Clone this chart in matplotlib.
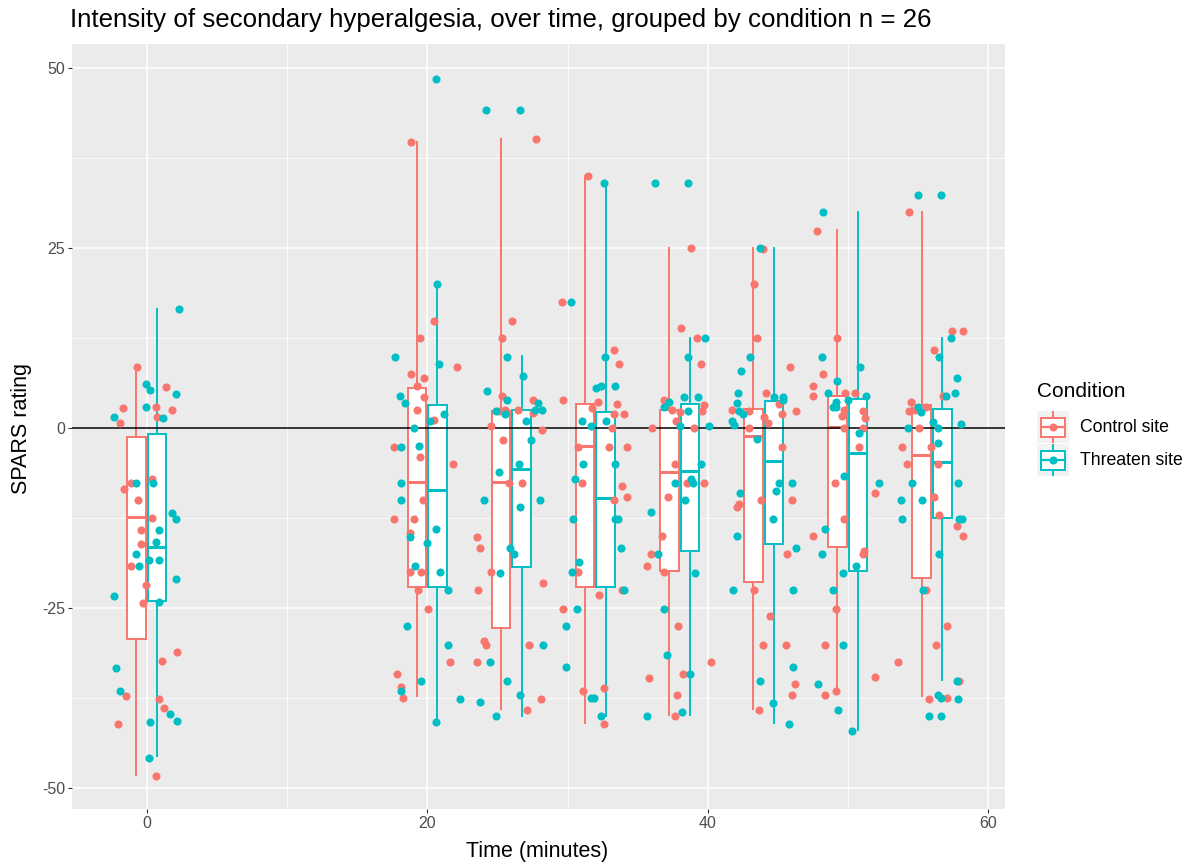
import matplotlib
matplotlib.use("Agg")
import numpy as np
from matplotlib import pyplot as plt
from matplotlib.patches import Rectangle

plt.rcParams['font.family'] = ['Liberation Sans', 'DejaVu Sans']
plt.rcParams['axes.unicode_minus'] = False

CTRL_COLOR = "#F8766D"
THR_COLOR = "#00BFC4"

times = [0, 20, 26, 32, 38, 44, 50, 56]

# box statistics (SPARS rating)
ctrl_whislo = [-48.1, -37.2, -38.9, -40.9, -39.8, -38.9, -36.4, -37.2]
ctrl_q1 = [-29.3, -22.0, -27.75, -22.0, -19.75, -21.3, -16.5, -20.7]
ctrl_med = [-12.25, -7.4, -7.4, -2.4, -6.05, -1.05, 0.15, -3.7]
ctrl_q3 = [-1.2, 5.6, 2.4, 3.35, 2.55, 2.65, 4.5, 3.25]
ctrl_whishi = [8.6, 39.8, 40.25, 35.1, 25.1, 25.1, 27.6, 30.1]

thr_whislo = [-45.5, -40.6, -39.9, -39.9, -39.8, -40.9, -41.9, -34.9]
thr_q1 = [-24.0, -22.0, -19.3, -22.0, -17.0, -16.1, -19.75, -12.5]
thr_med = [-16.4, -8.6, -5.6, -9.7, -5.9, -4.5, -3.45, -4.7]
thr_q3 = [-0.8, 3.2, 2.6, 2.35, 3.35, 3.85, 4.05, 2.7]
thr_whishi = [16.6, 20.2, 10.1, 34.05, 12.5, 25.1, 30.1, 12.5]

# jittered points: (time + jitter, rating)
ctrl_points = [
    # t = 0
    (-0.71, 8.6), (1.33, 5.75), (-1.71, 2.8), (0.64, 3.0), (1.76, 2.55), (-1.93, 0.8), (0.74, 1.6),
    (-1.12, -7.6), (-1.64, -8.35), (0.33, -6.95), (-0.67, -9.9), (0.33, -12.4), (-0.41, -14.1),
    (-0.41, -16.1), (-1.12, -19.1), (-0.1, -21.7), (-0.29, -24.3), (2.17, -31.05), (1.05, -32.25),
    (-1.52, -37.2), (0.83, -37.6), (1.24, -38.8), (-2.05, -41.0), (0.64, -48.2),
    # t = 20
    (18.83, 39.8), (20.5, 14.9), (19.45, 12.5), (22.12, 8.6), (18.83, 7.55), (19.79, 6.97),
    (19.26, 5.95), (19.79, 4.4), (19.26, 2.57), (20.5, 1.18), (17.6, -2.6), (19.45, -4.0),
    (21.81, -4.98), (19.67, -9.97), (17.6, -12.57), (19.07, -12.57), (18.74, -14.56),
    (18.74, -19.93), (19.57, -19.93), (19.32, -22.5), (20.04, -25.1), (21.62, -32.5),
    (17.83, -34.05), (18.12, -35.85), (18.24, -37.4),
    # t = 26
    (27.76, 40.2), (25.31, 12.57), (26.02, 14.9), (25.31, 4.55), (27.55, 3.95), (25.1, 2.4),
    (25.5, 2.57), (26.43, 2.57), (27.55, 2.2), (24.57, 0.4), (28.17, -0.2), (25.4, -1.64),
    (25.81, -7.57), (26.74, -7.57), (23.55, -15.1), (23.76, -16.55), (24.57, -19.93),
    (23.64, -22.5), (28.26, -21.5), (24.05, -29.5), (24.17, -30.1), (27.24, -30.1),
    (23.55, -32.5), (28.07, -37.6), (27.14, -39.05),
    # t = 32
    (31.45, 35.07), (29.6, 17.5), (33.29, 10.95), (33.69, 9.0), (29.68, 4.0), (32.17, 3.64),
    (33.5, 3.4), (31.76, 2.8), (33.29, 2.0), (34.02, 2.0), (33.19, 0.0), (32.98, -2.57),
    (34.21, -2.57), (30.74, -2.6), (31.05, -7.57), (33.9, -7.98), (34.21, -9.56), (33.29, -9.97),
    (30.74, -19.93), (33.9, -22.5), (32.26, -23.08), (29.67, -25.1), (31.12, -36.46),
    (32.57, -36.04), (32.57, -41.04),
    # t = 38
    (38.81, 25.1), (38.1, 13.9), (39.24, 12.5), (39.55, 9.0), (36.86, 4.0), (37.48, 2.6),
    (38.0, 2.25), (39.71, 3.2), (39.62, 2.43), (37.76, 1.0), (36.05, 0.0), (39.02, 0.0),
    (37.69, -4.93), (38.5, -7.57), (39.74, -7.57), (37.17, -9.56), (36.76, -14.93),
    (35.95, -17.5), (35.64, -19.1), (36.86, -19.93), (37.9, -27.5), (40.24, -32.5),
    (38.21, -34.05), (35.83, -34.65), (37.79, -37.05), (37.69, -40.0),
    # t = 44
    (43.95, 24.9), (43.31, 20.07), (43.52, 12.5), (45.86, 8.54), (44.14, 4.97), (45.05, 3.4),
    (41.76, 2.6), (42.93, 2.43), (45.26, 2.0), (46.29, 2.43), (44.0, 1.64), (44.26, 0.81),
    (42.93, 0.0), (45.29, -2.57), (42.24, -10.53), (42.07, -10.95), (43.83, -9.97),
    (45.98, -9.97), (45.67, -17.5), (43.31, -22.5), (44.43, -26.1), (43.93, -30.1),
    (45.57, -30.1), (46.19, -35.44), (45.98, -37.05), (43.62, -39.05),
    # t = 50
    (47.81, 27.47), (49.24, 12.5), (48.24, 7.57), (47.52, 5.95), (47.52, 4.56), (49.76, 4.97),
    (50.5, 4.97), (49.74, 2.6), (51.1, 2.43), (49.55, 1.78), (51.19, 1.41), (49.71, 0.0),
    (51.1, 0.0), (50.79, -2.57), (49.05, -7.57), (51.93, -9.0), (49.74, -12.57), (47.52, -14.93),
    (51.12, -16.97), (51.07, -17.5), (49.14, -25.1), (48.33, -30.1), (51.93, -34.47),
    (49.14, -36.46), (48.33, -37.05),
    # t = 56
    (54.38, 30.07), (57.45, 13.54), (58.17, 13.54), (56.12, 10.95), (56.81, 4.56), (54.48, 3.64),
    (54.33, 2.43), (54.79, 2.57), (55.59, 3.03), (55.09, 0.0), (53.86, -2.57), (55.91, -2.57),
    (54.19, -4.93), (56.43, -4.93), (56.12, -9.56), (56.52, -11.97), (57.76, -13.54),
    (58.17, -14.93), (55.59, -22.5), (57.05, -27.5), (56.31, -30.1), (53.57, -32.5),
    (57.95, -35.07), (55.81, -37.6), (57.09, -37.43),
]

thr_points = [
    # t = 0
    (2.29, 16.55), (-0.1, 6.2), (0.21, 5.35), (2.05, 4.8), (-0.1, 3.0), (-2.36, 1.6), (1.17, 1.4),
    (-0.81, -7.6), (0.43, -7.6), (1.76, -11.7), (2.05, -12.6), (0.83, -14.1), (0.62, -15.7),
    (-0.81, -17.5), (-0.59, -19.1), (0.12, -18.3), (0.83, -18.3), (2.05, -20.9), (-2.36, -23.3),
    (0.83, -24.05), (-2.24, -33.2), (-1.93, -36.4), (1.67, -39.6), (2.17, -40.6), (0.21, -40.8),
    (0.12, -45.8),
    # t = 20
    (20.62, 48.6), (20.69, 20.1), (17.71, 9.97), (20.81, 8.95), (18.02, 4.55), (18.43, 3.6),
    (21.21, 1.97), (20.19, 1.0), (19.07, 0.0), (18.12, -2.6), (19.38, -2.43), (18.12, -7.57),
    (18.12, -9.97), (20.6, -13.96), (18.74, -15.1), (19.95, -15.95), (19.14, -19.1),
    (20.88, -19.93), (21.5, -22.5), (18.55, -27.5), (21.5, -30.1), (19.55, -35.07),
    (18.12, -36.4), (22.31, -37.6), (20.6, -40.7),
    # t = 26
    (24.17, 44.2), (26.64, 44.2), (25.71, 9.97), (26.84, 7.35), (24.26, 5.17), (25.71, 3.95),
    (27.86, 3.6), (24.86, 2.4), (25.5, 1.97), (27.67, 2.57), (28.17, 2.57), (27.05, 1.0),
    (27.36, -1.64), (26.55, -4.98), (25.1, -6.0), (24.05, -9.97), (28.05, -9.97), (26.62, -10.95),
    (25.9, -16.55), (26.21, -17.5), (25.19, -20.1), (28.26, -30.1), (24.48, -32.5),
    (25.71, -35.07), (26.64, -37.05), (23.76, -38.0), (24.88, -40.0),
    # t = 32
    (32.57, 34.05), (30.21, 17.5), (32.67, 9.93), (32.05, 5.58), (32.36, 5.95), (33.4, 5.95),
    (31.02, 1.0), (31.64, 0.4), (32.76, 1.0), (31.12, -4.93), (33.4, -4.93), (30.52, -6.97),
    (30.4, -12.57), (33.4, -12.57), (33.6, -12.57), (33.79, -16.55), (30.81, -18.54),
    (30.33, -19.93), (34.02, -22.5), (30.64, -25.1), (29.9, -27.5), (29.9, -33.1),
    (31.64, -37.43), (31.86, -37.43), (32.36, -40.0),
    # t = 38
    (36.24, 34.05), (38.62, 34.05), (39.83, 12.5), (38.62, 9.93), (37.24, 3.64), (38.29, 4.37),
    (39.33, 4.37), (36.86, 3.03), (38.62, 2.43), (38.05, 0.4), (40.07, 0.4), (39.55, -4.93),
    (37.69, -7.57), (38.83, -6.97), (38.95, -7.57), (38.4, -9.97), (35.98, -11.55),
    (36.48, -17.5), (39.1, -20.1), (36.88, -25.1), (37.07, -31.5), (38.74, -34.05),
    (35.64, -40.0), (38.19, -39.4),
    # t = 44
    (43.71, 25.1), (43.0, 9.93), (42.4, 7.94), (42.19, 4.97), (42.07, 3.58), (44.71, 4.37),
    (45.38, 4.37), (45.36, 4.0), (42.24, 2.43), (42.52, 2.0), (41.74, 1.0), (41.88, 0.49),
    (43.52, -1.41), (45.07, -7.57), (45.98, -7.57), (44.86, -8.63), (42.31, -8.96),
    (44.64, -12.57), (42.1, -14.93), (46.29, -16.55), (41.79, -22.5), (46.1, -22.5),
    (46.1, -33.1), (43.74, -35.07), (44.64, -38.08), (45.76, -41.04),
    # t = 50
    (48.24, 30.07), (48.14, 9.93), (50.88, 8.54), (49.24, 6.55), (48.55, 4.97), (51.29, 4.56),
    (50.0, 3.96), (49.14, 3.73), (48.9, 2.99), (49.14, 2.99), (50.76, -0.63), (49.74, -6.55),
    (52.24, -7.57), (48.33, -13.96), (48.14, -17.5), (50.59, -19.1), (49.67, -20.1),
    (48.95, -22.5), (49.67, -30.1), (47.83, -35.44), (49.26, -39.05), (50.29, -42.0),
    # t = 56
    (55.0, 32.47), (56.62, 32.47), (57.33, 12.5), (56.52, 9.93), (57.76, 6.97), (57.64, 4.97),
    (57.02, 4.56), (55.0, 3.03), (55.21, 2.33), (56.09, 0.95), (54.29, 0.0), (56.45, 0.0),
    (58.05, 0.58), (56.41, -2.01), (54.59, -7.57), (57.86, -7.57), (53.79, -9.97),
    (55.29, -9.97), (53.88, -12.57), (57.9, -12.57), (58.14, -12.57), (56.52, -17.5),
    (55.38, -22.5), (57.76, -35.07), (56.43, -37.05), (56.64, -37.43), (57.86, -37.6),
    (55.81, -40.0), (56.64, -40.0),
]


def box_stats(lo, q1, med, q3, hi):
    return [dict(whislo=a, q1=b, med=c, q3=d, whishi=e, fliers=[])
            for a, b, c, d, e in zip(lo, q1, med, q3, hi)]


def draw_boxes(ax, stats, positions, color):
    ax.bxp(stats, positions=positions, widths=1.33, showfliers=False, showcaps=False,
           patch_artist=True, manage_ticks=False,
           boxprops=dict(facecolor="white", edgecolor=color, linewidth=1.4),
           whiskerprops=dict(color=color, linewidth=1.4),
           medianprops=dict(color=color, linewidth=2.2, solid_capstyle="butt"),
           zorder=2)


W, H = 1192, 868
fig = plt.figure(figsize=(W / 100, H / 100), dpi=100)
ax = fig.add_axes([72 / W, 1 - 809 / H, (1005 - 72) / W, (809 - 44) / H])
ax.set_facecolor("#EBEBEB")
for s in ax.spines.values():
    s.set_visible(False)

ax.set_xlim(-5.35, 61.2)
ax.set_ylim(-52.85, 53.4)
ax.set_xticks([0, 20, 40, 60])
ax.set_xticks([10, 30, 50], minor=True)
ax.set_yticks([-50, -25, 0, 25, 50])
ax.set_yticks([-37.5, -12.5, 12.5, 37.5], minor=True)
ax.grid(which="major", color="white", linewidth=1.1, zorder=0)
ax.grid(which="minor", color="white", linewidth=0.55, zorder=0)
ax.set_axisbelow(True)
ax.tick_params(which="major", length=3, width=0.8, color="#333333",
               labelcolor="#4D4D4D", labelsize=11.5, pad=2)
ax.tick_params(which="minor", length=0)

draw_boxes(ax, box_stats(ctrl_whislo, ctrl_q1, ctrl_med, ctrl_q3, ctrl_whishi),
           [t - 0.75 for t in times], CTRL_COLOR)
draw_boxes(ax, box_stats(thr_whislo, thr_q1, thr_med, thr_q3, thr_whishi),
           [t + 0.72 for t in times], THR_COLOR)

ax.axhline(0, color="black", linewidth=1.1, zorder=2.5)

cx, cy = zip(*ctrl_points)
tx, ty = zip(*thr_points)
ax.scatter(cx, cy, s=34, color=CTRL_COLOR, linewidths=0, zorder=3)
ax.scatter(tx, ty, s=34, color=THR_COLOR, linewidths=0, zorder=3)

fig.text(70 / W, 1 - 20 / H, "Intensity of secondary hyperalgesia, over time, grouped by condition n = 26",
         fontsize=18.6, va="center", ha="left", color="black")
fig.text(537 / W, 1 - 852 / H, "Time (minutes)", fontsize=15.5, ha="center", va="center")
fig.text(22 / W, 1 - 428 / H, "SPARS rating", fontsize=15.5, ha="center", va="center", rotation=90)

# legend
fig.text(1037 / W, 1 - 391 / H, "Condition", fontsize=15, ha="left", va="center")
labels = ["Control site", "Threaten site"]
colors = [CTRL_COLOR, THR_COLOR]
for i, (lab, col) in enumerate(zip(labels, colors)):
    top = 411 + i * 33
    kax = fig.add_axes([1037 / W, 1 - (top + 32) / H, 32 / W, 32 / H])
    kax.set_xlim(0, 1)
    kax.set_ylim(0, 1)
    kax.set_facecolor("#F2F2F2")
    kax.set_xticks([])
    kax.set_yticks([])
    for s in kax.spines.values():
        s.set_visible(False)
    kax.plot([0.5, 0.5], [0, 0.2], color=col, linewidth=1.4)
    kax.plot([0.5, 0.5], [0.78, 1], color=col, linewidth=1.4)
    kax.add_patch(Rectangle((0.12, 0.2), 0.76, 0.58, facecolor="white", edgecolor=col, linewidth=1.4))
    kax.plot([0.12, 0.88], [0.49, 0.49], color=col, linewidth=1.6)
    kax.scatter([0.5], [0.49], s=34, color=col, linewidths=0, zorder=3)
    fig.text(1080 / W, 1 - (top + 16) / H, lab, fontsize=12.7, ha="left", va="center")

fig.savefig("out.png", dpi=100)
